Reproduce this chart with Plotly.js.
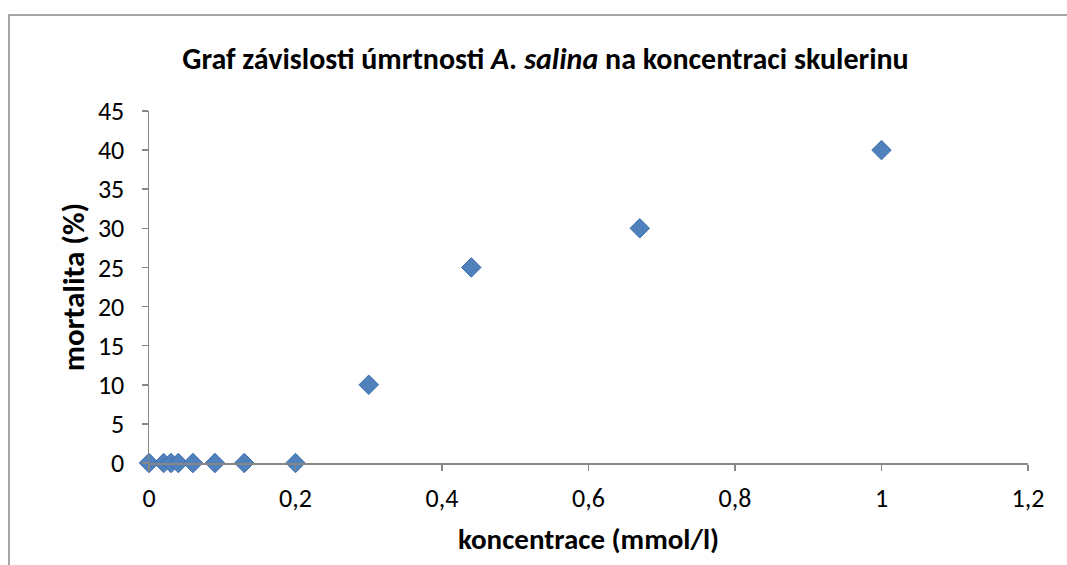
<!DOCTYPE html>
<html>
<head>
<meta charset="utf-8">
<script src="https://cdn.plot.ly/plotly-3.0.1.min.js"></script>
<style>html,body{margin:0;padding:0;background:#fff;}#chart{width:1067px;height:565px;}</style>
</head>
<body>
<div id="chart"></div>
<script>
const concentration = [0, 0.02, 0.03, 0.04, 0.06, 0.09, 0.13, 0.2, 0.3, 0.44, 0.67, 1.0];
const mortality = [0, 0, 0, 0, 0, 0, 0, 0, 10, 25, 30, 40];
const titleText = 'Graf závislosti úmrtnosti <i>A. salina</i> na koncentraci skulerinu';
const xTitle = 'koncentrace (mmol/l)';
const yTitle = 'mortalita (%)';

const FONT = 'Carlito, Calibri, Lato, "Open Sans", sans-serif';
const L = 149, R = 39, T = 111, B = 102;
const W = 1067 - L - R, H = 565 - T - B;

const trace = {
  x: concentration, y: mortality, type: 'scatter', mode: 'markers',
  marker: {symbol: 'diamond', size: 15, color: '#4f81bd', line: {color: '#3e6ea8', width: 1}},
  cliponaxis: false, hoverinfo: 'x+y'
};

const layout = {
  width: 1067, height: 565,
  margin: {l: L, r: R, t: T, b: B},
  paper_bgcolor: '#fff', plot_bgcolor: '#fff',
  separators: ', ',
  showlegend: false,
  font: {family: FONT, size: 26, color: '#000'},
  title: {text: '<b>' + titleText + '</b>', x: 545.5/1067, xanchor: 'center', y: 1 - 58/565, yanchor: 'middle', font: {family: FONT, size: 30, color: '#000'}},
  xaxis: {
    range: [0, 1.2], dtick: 0.2, tick0: 0,
    showgrid: false, zeroline: false, showline: true, linecolor: '#868686', linewidth: 1.5,
    ticks: 'outside', ticklen: 6, tickcolor: '#868686', tickwidth: 1.5,
    ticklabelstandoff: 5,
    tickfont: {family: FONT, size: 26, color: '#000'},
    title: {text: '<b>' + xTitle + '</b>', font: {family: FONT, size: 29, color: '#000'}, standoff: 16}
  },
  yaxis: {
    range: [0, 45], dtick: 5, tick0: 0,
    showgrid: false, zeroline: false, showline: true, linecolor: '#868686', linewidth: 1.5,
    ticks: 'outside', ticklen: 6, tickcolor: '#868686', tickwidth: 1.5,
    ticklabelstandoff: 12,
    tickfont: {family: FONT, size: 26, color: '#000'},
    title: {text: '<b>' + yTitle + '</b>', font: {family: FONT, size: 31, color: '#000'}, standoff: 4}
  },
  shapes: [{
    type: 'rect', xref: 'paper', yref: 'paper',
    x0: (9 - L) / W, x1: (1075 - L) / W,
    y0: (1 - (575 - T) / H), y1: 1 + (T - 15) / H,
    line: {color: '#868686', width: 1.5}, fillcolor: 'rgba(0,0,0,0)', layer: 'below'
  }]
};

Plotly.newPlot('chart', [trace], layout, {displayModeBar: false, staticPlot: true});
</script>
</body>
</html>
